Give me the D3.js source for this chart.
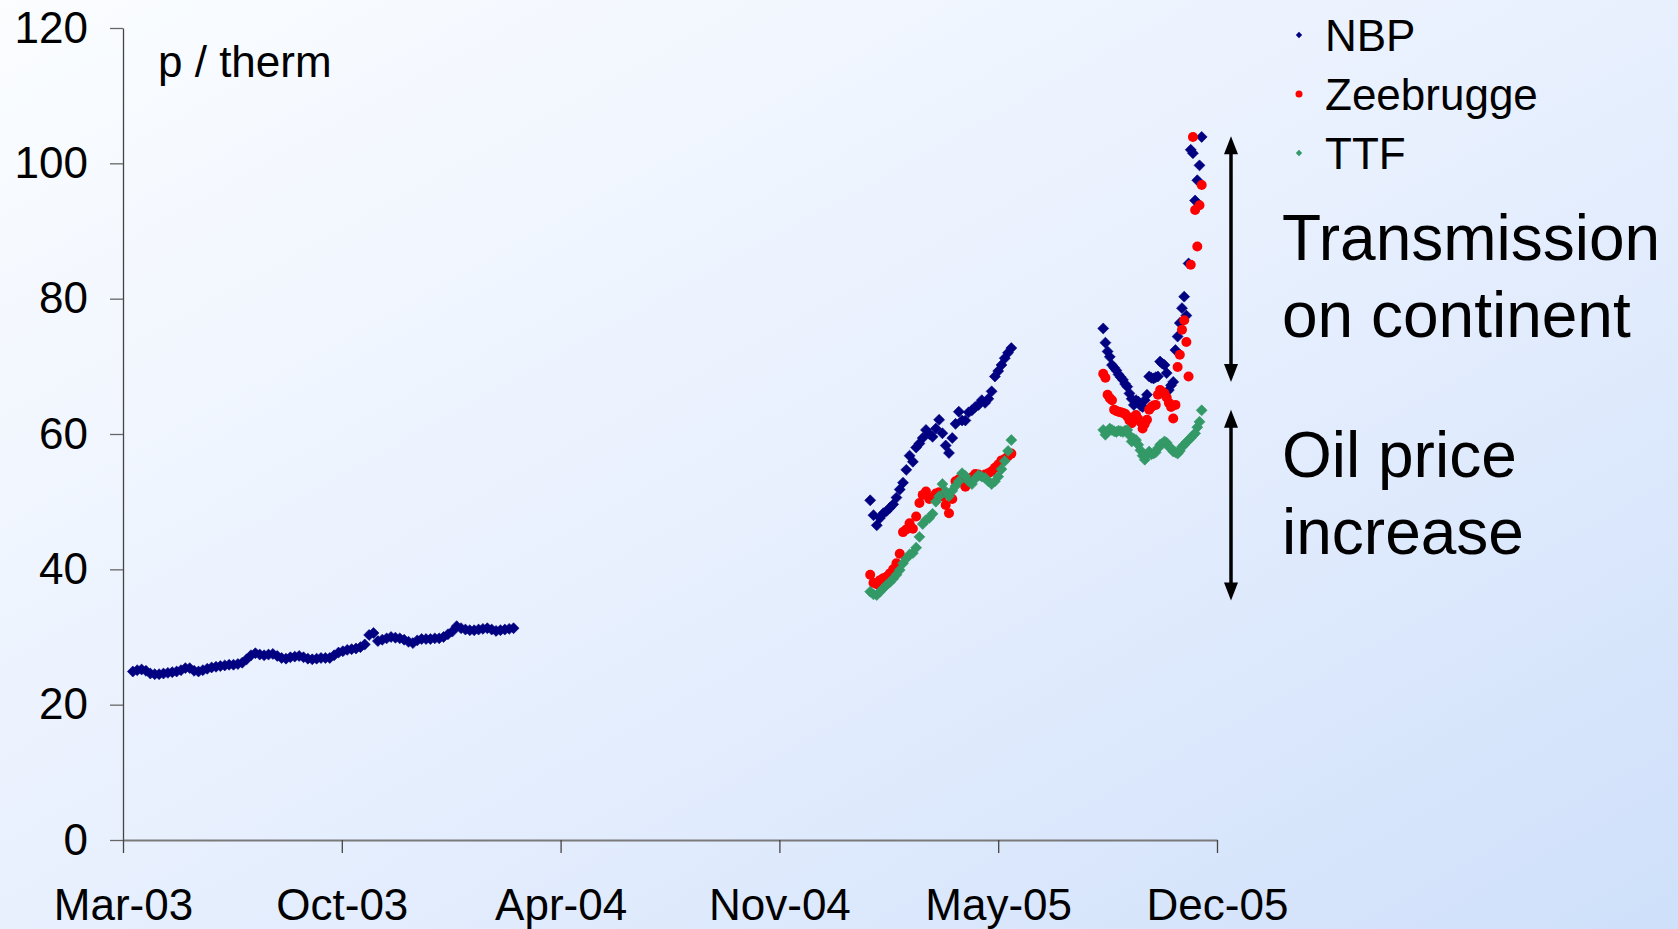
<!DOCTYPE html>
<html>
<head>
<meta charset="utf-8">
<script src="https://cdn.jsdelivr.net/npm/d3@7"></script>
<style>
	body { margin: 0; overflow: hidden; }
	svg { display: block; font-family: "Liberation Sans", Arial, sans-serif; }
	.axis text { font-size: 44px; fill: #000; }
</style>
</head>
<body>
<div id="chart-area"></div>
<script>

// axis setup (dates as in the spreadsheet: a tick every 200 days)
const axisStart = "2003-03-16";
const axisDays = 1000;
const tickStepDays = 200;
const yTicks = [0, 20, 40, 60, 80, 100, 120];

const seriesNames = ["NBP", "Zeebrugge", "TTF"];

// first observation date and spacing (days) of each block of prices
const blockStarts = ["2003-03-25", "2005-01-27", "2005-08-28"];
const blockSteps = [4, 3, 2];

// NBP, spring 2003 - spring 2004 (p/therm)
const nbp2003 = [
	24.9, 25.1, 25.2, 25.0, 24.6, 24.5, 24.5, 24.6, 24.7, 24.8,
	24.9, 25.1, 25.4, 25.4, 25.0, 24.9, 25.1, 25.3, 25.5, 25.6,
	25.7, 25.8, 25.9, 25.9, 26.0, 26.2, 26.7, 27.3, 27.6, 27.4,
	27.3, 27.4, 27.5, 27.2, 26.9, 26.8, 27.0, 27.1, 27.2, 27.0,
	26.8, 26.7, 26.8, 26.9, 26.9, 26.9, 27.3, 27.7, 27.9, 28.1,
	28.2, 28.3, 28.5, 28.9, 30.3, 30.6, 29.4, 29.6, 29.8, 30.0,
	29.9, 29.8, 29.6, 29.3, 29.1, 29.5, 29.7, 29.7, 29.7, 29.8,
	29.8, 30.0, 30.4, 30.8, 31.6, 31.3, 31.1, 31.0, 31.0, 31.1,
	31.2, 31.3, 31.1, 30.9, 31.0, 31.1, 31.2, 31.3
];

// early 2005
const nbp2005a = [
	50.2, 48.0, 46.5, 47.6, 48.3, 48.6, 49.1, 49.6, 50.6, 51.8,
	52.8, 54.7, 56.8, 55.9, 58.0, 58.6, 59.4, 60.6, 60.0, 59.6,
	60.8, 62.1, 60.1, 58.3, 57.2, 59.4, 61.5, 63.3, 62.0, 62.0,
	63.2, 63.5, 64.0, 64.3, 65.0, 64.6, 65.2, 66.3, 68.5, 69.3,
	70.2, 71.2, 72.0, 72.7
];
const zee2005a = [
	39.2, 38.0, 37.8, 38.4, 38.7, 38.9, 39.4, 40.0, 40.9, 42.3,
	45.5, 45.9, 46.8, 46.0, 47.8, 49.8, 51.0, 51.5, 50.4, 50.6,
	51.2, 51.4, 50.8, 49.5, 48.3, 50.4, 53.0, 53.3, 52.8, 52.2,
	53.0, 53.6, 54.1, 54.0, 53.8, 54.0, 54.2, 54.5, 55.0, 55.5,
	56.1, 56.3, 56.7, 57.1
];
const ttf2005a = [
	36.7, 36.3, 36.2, 36.7, 37.2, 37.7, 38.1, 38.6, 39.2, 39.9,
	40.9, 41.6, 42.2, 42.4, 43.2, 44.8, 46.7, 47.3, 47.6, 48.2,
	50.0, 50.8, 52.6, 51.5, 50.8, 51.6, 52.3, 53.0, 54.2, 53.8,
	53.0, 52.6, 53.4, 53.9, 53.7, 53.5, 53.0, 52.6, 53.0, 53.7,
	54.8, 56.0, 57.5, 59.1
];

// autumn 2005
const nbp2005b = [
	75.6, 73.5, 72.2, 71.4, 70.2, 69.8, 69.4, 68.8, 68.4, 68.0,
	67.4, 67.0, 66.0, 65.2, 64.3, 65.0, 64.8, 64.2, 64.0, 65.0,
	65.8, 68.5, 68.3, 68.2, 68.4, 68.5, 70.7, 70.4, 70.2, 69.0,
	66.5, 67.2, 67.7, 72.4, 74.4, 76.4, 78.6, 80.3, 77.5, 85.2,
	102.0, 101.5, 94.5, 97.5, 99.7, 103.9
];
const zee2005b = [
	68.9, 68.3, 65.8, 65.3, 65.0, 63.6, 63.4, 63.3, 63.2, 63.1,
	63.0, 62.6, 62.0, 61.6, 62.5, 62.8, 62.2, 61.8, 60.8, 61.5,
	62.1, 63.6, 64.0, 64.2, 64.3, 65.8, 66.5, 66.2, 66.0, 65.4,
	64.6, 64.0, 62.3, 64.3, 69.9, 71.7, 75.4, 76.8, 73.6, 68.5,
	85.0, 103.9, 93.1, 87.7, 93.8, 96.8
];
const ttf2005b = [
	60.6, 59.9, 60.4, 60.8, 60.6, 60.4, 60.3, 60.5, 60.4, 60.3,
	60.5, 60.6, 59.8, 58.9, 59.3, 59.1, 58.4, 57.6, 56.8, 56.2,
	56.9, 57.4, 57.0, 57.1, 57.3, 57.9, 58.4, 58.6, 58.9, 58.7,
	58.1, 57.9, 57.4, 57.3, 57.1, 57.5, 58.1, 58.4, 58.8, 59.1,
	59.4, 59.8, 60.1, 61.0, 61.8, 63.5
];

// annotations
const annotationLines = [["Transmission", "on continent"], ["Oil price", "increase"]];
const arrowSpans = [[104, 67.7], [63.6, 35.4]];

const parseDate = d3.utcParse("%Y-%m-%d");

// turn a block of values into dated points
function toPoints(block, values) {
	let start = parseDate(blockStarts[block]);
	return values.map((v, i) => ({
		date: d3.utcDay.offset(start, i * blockSteps[block]),
		value: v
	}));
}

const series = [
	{ name: "NBP", shape: "diamond", color: "#000080",
		points: [...toPoints(0, nbp2003), ...toPoints(1, nbp2005a), ...toPoints(2, nbp2005b)] },
	{ name: "Zeebrugge", shape: "circle", color: "#ff0000",
		points: [...toPoints(1, zee2005a), ...toPoints(2, zee2005b)] },
	{ name: "TTF", shape: "diamond", color: "#339966",
		points: [...toPoints(1, ttf2005a), ...toPoints(2, ttf2005b)] }
];

// SVG size
let margin = { top: 28, right: 461, bottom: 89, left: 123 },
	width = 1678 - margin.left - margin.right,
	height = 929 - margin.top - margin.bottom;

let root = d3.select("#chart-area").append("svg")
	.attr("width", 1678)
	.attr("height", 929);

// background gradient
let grad = root.append("defs").append("linearGradient")
	.attr("id", "bg")
	.attr("x1", 0).attr("y1", 0)
	.attr("x2", 1).attr("y2", 1);
grad.append("stop").attr("offset", 0).attr("stop-color", "#fbfdff");
grad.append("stop").attr("offset", 0.5).attr("stop-color", "#e8f0fe");
grad.append("stop").attr("offset", 1).attr("stop-color", "#cfe0fa");

root.append("rect")
	.attr("width", 1678)
	.attr("height", 929)
	.attr("fill", "url(#bg)");

let svg = root.append("g")
	.attr("transform", "translate(" + margin.left + "," + margin.top + ")");

// scales
let start = parseDate(axisStart);
let xScale = d3.scaleUtc()
	.domain([start, d3.utcDay.offset(start, axisDays)])
	.range([0, width]);

let yScale = d3.scaleLinear()
	.domain([0, 120])
	.range([height, 0]);

// axes
let xAxis = d3.axisBottom(xScale)
	.tickValues(d3.range(0, axisDays + 1, tickStepDays).map(d => d3.utcDay.offset(start, d)))
	.tickFormat(d3.utcFormat("%b-%y"))
	.tickSize(13)
	.tickSizeOuter(0)
	.tickPadding(36);

let yAxis = d3.axisLeft(yScale)
	.tickValues(yTicks)
	.tickSize(13)
	.tickSizeOuter(0)
	.tickPadding(22);

let gy = svg.append("g")
	.attr("class", "y axis")
	.call(yAxis);
gy.select(".domain").attr("stroke", "#444").attr("stroke-width", 1.3);
gy.selectAll(".tick line").attr("stroke", "#666").attr("stroke-width", 1.3);

let gx = svg.append("g")
	.attr("class", "x axis")
	.attr("transform", "translate(0," + height + ")")
	.call(xAxis);
gx.select(".domain").attr("stroke", "#7a7a7a").attr("stroke-width", 2.2);
gx.selectAll(".tick line").attr("stroke", "#444").attr("stroke-width", 1.3);

// unit label
svg.append("text")
	.attr("x", 35)
	.attr("y", 49)
	.attr("font-size", 44)
	.text("p / therm");

// markers
let diamond = d3.symbol().type(d3.symbolSquare).size(60);
let smallDiamond = d3.symbol().type(d3.symbolSquare).size(20);

series.forEach(s => {
	let g = svg.append("g").attr("class", "series");
	if (s.shape === "circle") {
		g.selectAll("circle")
			.data(s.points)
			.enter()
			.append("circle")
			.attr("cx", d => xScale(d.date))
			.attr("cy", d => yScale(d.value))
			.attr("r", 5)
			.attr("fill", s.color);
	} else {
		g.selectAll("path")
			.data(s.points)
			.enter()
			.append("path")
			.attr("d", diamond)
			.attr("transform", d => "translate(" + xScale(d.date) + "," + yScale(d.value) + ") rotate(45)")
			.attr("fill", s.color)
			.attr("stroke", s.color)
			.attr("stroke-width", 0.6);
	}
});

// legend
let legend = svg.selectAll(".legend")
	.data(series)
	.enter()
	.append("g")
	.attr("class", "legend")
	.attr("transform", (d, i) => "translate(" + (width + 82) + "," + (7 + i * 59) + ")");

legend.each(function(d) {
	let g = d3.select(this);
	if (d.shape === "circle") {
		g.append("circle").attr("r", 3.5).attr("fill", d.color);
	} else {
		g.append("path").attr("d", smallDiamond).attr("transform", "rotate(45)").attr("fill", d.color);
	}
	g.append("text")
		.attr("x", 26)
		.attr("y", 16)
		.attr("font-size", 44)
		.text(d.name);
});

// arrows and comments
let arrowX = width + 14;
arrowSpans.forEach(span => {
	let y1 = yScale(span[0]), y2 = yScale(span[1]);
	let head = 18, half = 7;
	svg.append("line")
		.attr("x1", arrowX).attr("x2", arrowX)
		.attr("y1", y1 + head - 2).attr("y2", y2 - head + 2)
		.attr("stroke", "#000")
		.attr("stroke-width", 3.5);
	svg.append("path")
		.attr("d", "M" + arrowX + "," + y1 + "L" + (arrowX + half) + "," + (y1 + head) + "L" + (arrowX - half) + "," + (y1 + head) + "Z")
		.attr("fill", "#000");
	svg.append("path")
		.attr("d", "M" + arrowX + "," + y2 + "L" + (arrowX + half) + "," + (y2 - head) + "L" + (arrowX - half) + "," + (y2 - head) + "Z")
		.attr("fill", "#000");
});

let noteY = [[232, 309], [449, 526]];
annotationLines.forEach((lines, i) => {
	lines.forEach((line, j) => {
		svg.append("text")
			.attr("x", width + 65)
			.attr("y", noteY[i][j])
			.attr("font-size", 64)
			.text(line);
	});
});

</script>
</body>
</html>
